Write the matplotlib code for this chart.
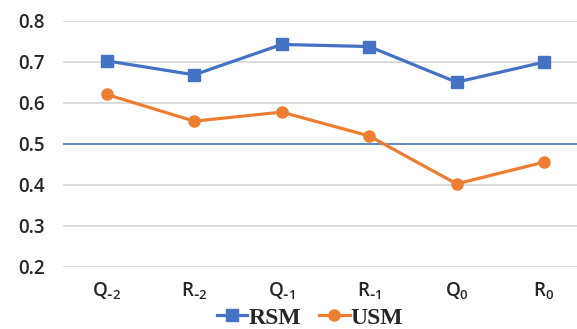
import matplotlib
matplotlib.use("Agg")
import matplotlib.pyplot as plt

plt.rcParams["font.family"] = ["Open Sans", "DejaVu Sans"]
plt.rcParams["font.weight"] = 600

categories = [r"$\mathregular{Q_{\text{-}2}}$", r"$\mathregular{R_{\text{-}2}}$", r"$\mathregular{Q_{\text{-}1}}$",
              r"$\mathregular{R_{\text{-}1}}$", r"$\mathregular{Q_{0}}$", r"$\mathregular{R_{0}}$"]
rsm = [0.702, 0.668, 0.742, 0.737, 0.650, 0.699]
usm = [0.620, 0.555, 0.577, 0.519, 0.402, 0.455]
yticks = [0.2, 0.3, 0.4, 0.5, 0.6, 0.7, 0.8]
threshold = 0.5

fig = plt.figure(figsize=(5.77, 3.29), dpi=100)
ax = fig.add_axes([0.1092, 0.1894, 0.9095, 0.7477])

x = list(range(len(categories)))
ax.set_xlim(-0.5, len(categories) - 0.5)
ax.set_ylim(min(yticks), max(yticks))
ax.set_yticks(yticks)
ax.set_yticklabels([f"{v:.1f}" for v in yticks])
ax.set_xticks(x)
ax.set_xticklabels(categories)

ax.yaxis.grid(True, color="#D9D9D9", linewidth=1.3, zorder=0)
ax.set_axisbelow(True)
ax.axhline(threshold, color="#4472C4", linewidth=1.1, zorder=1)

ax.plot(x, rsm, color="#4472C4", linewidth=2.3, marker="s", markersize=8,
        label="RSM", zorder=3, clip_on=False)
ax.plot(x, usm, color="#ED7D31", linewidth=2.3, marker="o", markersize=8,
        label="USM", zorder=3, clip_on=False)

for s in ax.spines.values():
    s.set_visible(False)
ax.tick_params(axis="both", length=0, colors="#262626", labelsize=13.5)
ax.tick_params(axis="y", pad=13)
ax.tick_params(axis="x", pad=10)
for lbl in ax.get_xticklabels():
    lbl.set_x(lbl.get_position()[0])

leg = fig.legend(loc="center", bbox_to_anchor=(310 / 577, 1 - 318 / 329),
                 bbox_transform=fig.transFigure, ncol=2, frameon=False,
                 prop={"family": "Liberation Serif", "weight": "bold", "size": 17},
                 handlelength=1.3, handletextpad=0.05, columnspacing=0.75, borderaxespad=0)
for t in leg.get_texts():
    t.set_color("#262626")

fig.savefig("out.png", dpi=100)
